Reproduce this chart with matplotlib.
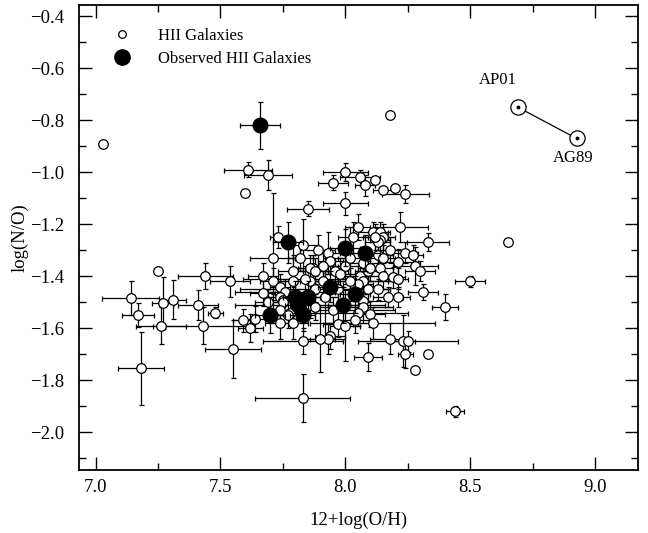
"""Script to plot log(N/O) against 12+log(O/H) for HII galaxies"""
import matplotlib

matplotlib.use("Agg")
import matplotlib.pyplot as plt
from matplotlib.lines import Line2D
from matplotlib.ticker import MultipleLocator

# HII galaxies from the literature: x, y, x error, y error
hii_x = [
    7.03, 8.18, 8.65, 7.61, 7.69, 7.60, 7.85, 8.00, 7.95, 8.06,
    8.08, 8.12, 8.15, 8.20, 8.24, 8.00, 8.22, 8.05, 8.11, 8.14,
    8.15, 8.14, 8.03, 8.33, 7.73, 7.83, 7.89, 7.71, 7.79, 7.87,
    7.93, 7.94, 7.91, 7.86, 7.88, 7.96, 8.00, 7.98, 8.06, 8.07,
    8.09, 8.07, 8.10, 8.14, 8.13, 8.15, 8.18, 8.24, 8.27, 8.21,
    8.28, 8.30, 8.15, 8.19, 8.21, 8.13, 8.17, 8.21, 8.31, 8.50,
    8.40, 8.07, 8.07, 8.10, 8.05, 8.04, 7.97, 8.00, 7.94, 7.93,
    7.90, 7.83, 8.11, 8.18, 8.23, 8.25, 8.09, 8.24, 8.33, 8.28,
    8.44, 7.83, 7.18, 7.55, 7.17, 7.26, 7.43, 7.14, 7.27, 7.31,
    7.41, 7.48, 7.25, 7.44, 7.54, 7.67, 7.67, 7.69, 7.71, 7.74,
    7.76, 7.79, 7.74, 7.75, 7.75, 7.74, 7.78, 7.77, 7.86, 7.91,
    7.86, 7.88, 7.59, 7.62, 7.64, 7.74, 7.79, 8.05, 8.09, 8.13,
    8.12, 7.82, 7.84, 7.97, 7.92, 8.02, 7.95, 8.02, 7.88,
]
hii_y = [
    -0.89, -0.78, -1.27, -0.99, -1.01, -1.08, -1.14, -1.00, -1.04, -1.02,
    -1.05, -1.03, -1.07, -1.06, -1.085, -1.12, -1.21, -1.21, -1.23, -1.23,
    -1.25, -1.26, -1.25, -1.27, -1.25, -1.28, -1.30, -1.33, -1.38, -1.37,
    -1.31, -1.34, -1.36, -1.37, -1.38, -1.38, -1.36, -1.39, -1.40, -1.42,
    -1.38, -1.35, -1.37, -1.37, -1.32, -1.33, -1.30, -1.31, -1.32, -1.345,
    -1.36, -1.38, -1.40, -1.405, -1.41, -1.45, -1.48, -1.48, -1.46, -1.42,
    -1.52, -1.495, -1.52, -1.545, -1.54, -1.57, -1.585, -1.59, -1.63, -1.64,
    -1.64, -1.65, -1.58, -1.64, -1.65, -1.65, -1.71, -1.70, -1.70, -1.76,
    -1.92, -1.87, -1.755, -1.68, -1.55, -1.59, -1.59, -1.485, -1.505, -1.49,
    -1.51, -1.54, -1.38, -1.40, -1.42, -1.40, -1.465, -1.50, -1.42, -1.44,
    -1.46, -1.42, -1.48, -1.49, -1.50, -1.53, -1.54, -1.55, -1.42, -1.42,
    -1.51, -1.52, -1.57, -1.60, -1.565, -1.58, -1.58, -1.43, -1.45, -1.27,
    -1.25, -1.33, -1.41, -1.45, -1.48, -1.42, -1.53, -1.33, -1.45,
]
hii_xerr = [
    0.0, 0.0, 0.0, 0.095, 0.095, 0.0, 0.085, 0.09, 0.06, 0.08,
    0.04, 0.0, 0.04, 0.0, 0.095, 0.09, 0.11, 0.05, 0.06, 0.04,
    0.05, 0.04, 0.06, 0.085, 0.03, 0.06, 0.07, 0.09, 0.06, 0.05,
    0.05, 0.05, 0.06, 0.05, 0.05, 0.05, 0.05, 0.06, 0.08, 0.10,
    0.05, 0.06, 0.05, 0.05, 0.06, 0.05, 0.06, 0.05, 0.04, 0.08,
    0.09, 0.06, 0.06, 0.05, 0.04, 0.05, 0.06, 0.05, 0.06, 0.06,
    0.052, 0.10, 0.12, 0.06, 0.20, 0.07, 0.06, 0.06, 0.06, 0.07,
    0.06, 0.16, 0.25, 0.08, 0.05, 0.20, 0.056, 0.03, 0.0, 0.0,
    0.036, 0.19, 0.092, 0.113, 0.065, 0.10, 0.20, 0.115, 0.045, 0.05,
    0.08, 0.03, 0.0, 0.11, 0.08, 0.06, 0.05, 0.05, 0.05, 0.04,
    0.20, 0.05, 0.05, 0.05, 0.05, 0.05, 0.05, 0.05, 0.06, 0.06,
    0.30, 0.05, 0.04, 0.05, 0.05, 0.06, 0.06, 0.06, 0.05, 0.05,
    0.05, 0.05, 0.25, 0.05, 0.05, 0.20, 0.25, 0.05, 0.30,
]
hii_yerr = [
    0.0, 0.0, 0.0, 0.03, 0.058, 0.0, 0.03, 0.035, 0.03, 0.03,
    0.04, 0.0, 0.0, 0.0, 0.035, 0.045, 0.058, 0.05, 0.04, 0.04,
    0.05, 0.04, 0.06, 0.035, 0.042, 0.10, 0.06, 0.25, 0.06, 0.05,
    0.08, 0.05, 0.05, 0.05, 0.05, 0.05, 0.05, 0.06, 0.05, 0.05,
    0.04, 0.06, 0.05, 0.05, 0.05, 0.05, 0.05, 0.04, 0.04, 0.05,
    0.073, 0.04, 0.05, 0.04, 0.04, 0.04, 0.04, 0.04, 0.03, 0.02,
    0.05, 0.05, 0.06, 0.05, 0.05, 0.05, 0.05, 0.135, 0.05, 0.06,
    0.13, 0.05, 0.06, 0.058, 0.10, 0.04, 0.053, 0.053, 0.0, 0.0,
    0.02, 0.092, 0.141, 0.112, 0.045, 0.07, 0.07, 0.065, 0.10, 0.075,
    0.058, 0.02, 0.0, 0.05, 0.06, 0.05, 0.05, 0.05, 0.05, 0.05,
    0.05, 0.15, 0.05, 0.05, 0.05, 0.05, 0.05, 0.05, 0.05, 0.05,
    0.05, 0.05, 0.045, 0.053, 0.05, 0.06, 0.06, 0.05, 0.05, 0.05,
    0.05, 0.05, 0.05, 0.05, 0.15, 0.05, 0.05, 0.12, 0.05,
]

# Observed HII galaxies (this work)
obs_x = [7.66, 7.77, 8.00, 8.08, 7.94, 8.04, 7.99, 7.80, 7.85, 7.81, 7.83, 7.70]
obs_y = [-0.82, -1.27, -1.29, -1.31, -1.44, -1.47, -1.51, -1.48, -1.48, -1.51, -1.55, -1.55]
obs_xerr = [0.08, 0.06, 0.06, 0.06, 0.05, 0.06, 0.06, 0.05, 0.05, 0.05, 0.05, 0.06]
obs_yerr = [0.09, 0.08, 0.07, 0.07, 0.06, 0.07, 0.07, 0.06, 0.06, 0.06, 0.06, 0.07]

# solar reference values
ref_names = ["AP01", "AG89"]
ref_x = [8.69, 8.925]
ref_y = [-0.75, -0.87]
ref_label_x = [8.61, 8.91]
ref_label_y = [-0.645, -0.945]


def main():
    plt.rcParams["font.family"] = ["Liberation Serif", "DejaVu Serif"]

    fig = plt.figure(figsize=(6.48, 5.33), dpi=100)
    ax = fig.add_axes([0.122, 0.118, 0.863, 0.872])

    # error bars of the literature sample, then the circles on top
    ax.errorbar(hii_x, hii_y, xerr=hii_xerr, yerr=hii_yerr, fmt="none",
                ecolor="black", elinewidth=0.9, capsize=1.8, capthick=0.9, zorder=2)
    ax.plot(hii_x, hii_y, "o", ms=6.9, mfc="white", mec="black", mew=0.9,
            zorder=3, linestyle="none")

    ax.errorbar(obs_x, obs_y, xerr=obs_xerr, yerr=obs_yerr, fmt="none",
                ecolor="black", elinewidth=0.9, capsize=1.8, capthick=0.9, zorder=4)
    ax.plot(obs_x, obs_y, "o", ms=10.5, color="black", zorder=5, linestyle="none")

    # solar values joined by a line, sun symbols
    ax.plot(ref_x, ref_y, "-", color="black", lw=0.9, zorder=6)
    ax.plot(ref_x, ref_y, "o", ms=11, mfc="white", mec="black", mew=0.9,
            zorder=7, linestyle="none")
    ax.plot(ref_x, ref_y, "o", ms=1.8, color="black", zorder=8, linestyle="none")
    for name, lx, ly in zip(ref_names, ref_label_x, ref_label_y):
        ax.text(lx, ly, name, ha="center", va="center", fontsize=12)

    ax.set_xlim(6.934, 9.172)
    ax.set_ylim(-2.146, -0.358)
    ax.xaxis.set_major_locator(MultipleLocator(0.5))
    ax.xaxis.set_minor_locator(MultipleLocator(0.25))
    ax.yaxis.set_major_locator(MultipleLocator(0.2))
    ax.yaxis.set_minor_locator(MultipleLocator(0.1))
    ax.xaxis.set_major_formatter(lambda v, p: f"{v:.1f}")
    ax.yaxis.set_major_formatter(lambda v, p: f"{v:.1f}".replace("-", "\u2212"))
    ax.tick_params(which="both", direction="in", top=True, right=True, labelsize=13.5)
    ax.tick_params(which="major", length=9.5, width=1.0)
    ax.tick_params(which="minor", length=5, width=1.0)
    ax.tick_params(axis="x", which="major", pad=6.5)
    ax.tick_params(axis="y", which="major", pad=11)
    for spine in ax.spines.values():
        spine.set_linewidth(1.3)

    ax.set_xlabel("12+log(O/H)", fontsize=13.5, labelpad=11)
    ax.set_ylabel("log(N/O)", fontsize=13.5, labelpad=0.5)

    handles = [
        Line2D([], [], marker="o", ls="none", ms=5.5, mfc="white", mec="black", mew=0.9),
        Line2D([], [], marker="o", ls="none", ms=11, color="black"),
    ]
    ax.legend(handles, ["HII Galaxies", "Observed HII Galaxies"], loc="upper left",
              bbox_to_anchor=(0.041, 0.965), borderaxespad=0.0,
              frameon=False, fontsize=12, handletextpad=1.35,
              labelspacing=0.38, handlelength=1.6)

    fig.savefig("out.png", dpi=100)


if __name__ == "__main__":
    main()
